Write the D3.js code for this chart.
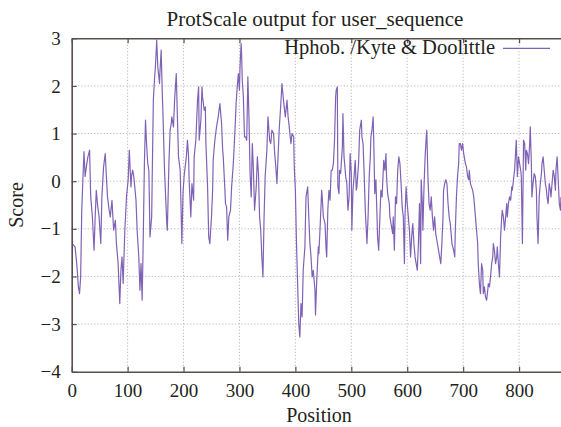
<!DOCTYPE html>
<html>
<head>
<meta charset="utf-8">
<script src="https://cdn.jsdelivr.net/npm/d3@7"></script>
<style>
  html, body { margin: 0; padding: 0; background: #fff; }
  svg { display: block; }
  text { font-family: "Liberation Serif", "DejaVu Serif", serif; fill: #231f20; }
</style>
</head>
<body>
<svg id="chart" width="561" height="427"></svg>
<script>
// Kyte & Doolittle hydropathy profile (sliding-window average)
const positions = [
  0,6,9,12,14,16,18,20,22,24,27,29,32,34,37,40,42,44,46,49,52,54,57,60,62,64,67,69,72,75,78,80,83,86,88,90,92,95,98,101,103,
  106,107,109,111,115,117,120,122,124,126,128,130,132,134,136,138,140,143,144,146,148,150,152,154,157,158,160,162,163,166,168,170,171,
  174,176,178,179,182,184,187,189,191,194,
  197,199,201,205,207,209,210,213,215,218,219,222,225,227,228,231,233,234,237,239,240,243,245,247,250,252,253,256,259,262,265,268,270,
  271,274,275,277,279,281,284,286,289,292,294,296,298,300,301,303,304,305,307,309,311,313,315,317,319,321,323,325,327,330,332,334,336,
  338,340,342,344,346,349,351,354,356,358,361,363,365,367,369,371,374,376,377,380,382,385,387,389,392,394,397,398,400,402,404,406,408,
  410,412,414,417,419,422,424,426,
  428,430,432,435,436,438,441,442,444,447,448,450,453,455,456,458,460,462,464,466,468,470,472,473,475,476,478,479,481,484,485,487,490,
  492,494,496,498,500,501,503,505,507,509,510,513,515,518,519,521,523,525,528,530,532,534,535,537,539,540,542,544,546,547,549,552,553,
  555,558,560,562,563,565,568,569,571,574,575,577,579,581,583,585,587,589,591,593,595,596,598,600,602,604,606,608,610,612,614,616,618,
  620,622,
  624,625,627,628,630,632,634,635,637,639,641,643,645,647,649,651,653,655,658,660,662,664,665,667,669,671,673,675,677,679,680,683,685,
  686,688,690,692,693,695,697,699,701,702,704,706,708,710,711,713,715,717,719,720,722,724,726,727,729,731,733,735,736,738,740,742,744,
  745,747,749,751,753,754,756,758,760,761,763,765,767,769,770,772,774,776,778,779,781,783,785,787,788,790,792,794,795,797,799,801,803,
  804,806,808,810,812,813,815,817,819,820,822,823,825,827,829,831,832,834,836,838,840,841,843,845,847,849,850,852,854,856,857,859,861,
  863,865,866,868,870,872,874,875
];
const scores = [
  -1.30,-1.38,-1.73,-2.22,-2.36,-2.01,-0.61,0.03,0.62,0.10,0.37,0.51,0.65,-0.33,-0.75,-1.45,-0.75,-0.19,-0.47,-0.75,-1.31,-0.33,0.30,
  0.58,0.10,-0.33,-0.61,-0.75,-0.40,-1.03,-0.82,-1.31,-1.73,-2.57,-1.87,-1.59,-2.15,-1.03,-0.33,0.03,0.65,
  -0.12,0.10,0.23,0.10,-0.40,-1.03,-1.59,-2.29,-1.73,-2.50,-1.17,0.37,1.28,0.76,0.37,0.23,-1.17,-0.75,0.10,1.70,2.12,2.47,2.96,2.40,
  2.05,2.33,2.75,1.84,1.49,0.23,-0.33,-0.89,-1.03,
  0.44,1.07,1.21,1.35,1.14,1.70,2.26,1.35,0.51,0.23,
  -1.31,-0.26,0.10,0.51,0.86,0.51,0.03,-0.75,-0.05,-0.40,0.51,0.86,1.70,1.98,0.86,1.28,1.98,1.77,1.49,1.56,0.79,-0.12,-1.17,-1.31,-0.75,
  -0.19,0.44,0.86,1.14,1.35,1.63,1.21,0.65,
  0.51,-0.19,-0.47,-0.54,-1.24,-0.75,-0.61,-0.12,0.37,1.07,1.63,1.98,2.26,1.91,2.40,2.89,2.61,2.12,1.77,0.93,0.93,0.86,2.19,1.35,0.16,
  -0.33,0.79,0.23,-0.61,-0.12,0.51,0.16,-0.75,
  -1.03,-1.59,-2.01,-0.75,0.10,0.65,1.35,0.86,0.79,1.07,1.00,0.58,0.30,-0.05,0.51,1.07,1.63,2.05,1.91,1.56,1.35,1.70,1.35,1.14,0.79,
  1.00,0.93,0.30,-0.19,-1.31,-2.15,-2.99,-3.27,
  -2.57,-2.85,-1.87,-1.38,-0.33,-0.12,-0.75,-1.31,
  -1.59,-2.01,-1.87,-2.29,-2.81,-2.15,-1.38,-1.52,-1.03,-0.19,-0.33,-0.75,-0.89,-1.45,-1.59,-0.61,-0.19,-0.40,0.23,0.23,0.37,0.86,1.77,
  1.91,1.98,-0.12,-0.26,0.23,0.16,0.72,1.42,0.51,0.10,
  -0.05,-0.61,-0.33,0.58,0.16,-1.03,-0.19,0.10,0.44,-0.19,-0.12,0.37,1.07,1.28,0.93,0.79,0.16,-0.61,-1.31,-0.75,0.10,0.51,0.93,1.07,
  1.35,0.93,-0.26,0.03,-0.75,-1.17,-1.45,-0.47,-0.19,
  -0.33,0.44,0.23,0.58,0.10,-0.26,-0.47,-0.75,-0.89,-1.10,-0.75,-1.45,-0.33,-0.47,0.23,0.51,0.37,-0.05,-0.54,-0.75,-1.73,-0.75,-0.12,
  -0.47,-0.75,-1.03,-1.59,-1.17,-0.89,-1.31,-1.59,-1.73,-1.87,
  -1.31,-0.47,
  -1.73,0.03,-0.47,-1.03,-0.12,0.51,0.93,1.07,0.10,-0.47,-0.61,-0.33,-0.75,-1.03,-0.75,-1.10,-1.24,-1.38,-1.59,-1.73,-1.31,-0.75,-0.19,
  -0.05,0.03,-0.05,-0.47,-0.75,-0.89,-1.17,-1.31,-1.45,-1.59,
  -1.03,-0.33,0.10,0.37,0.79,0.79,0.65,0.79,0.58,0.51,0.37,0.30,0.10,0.03,0.23,-0.05,-0.12,-0.19,-0.33,-0.47,-0.75,-1.03,-1.31,-1.73,
  -2.15,-2.36,-1.73,-1.87,-2.36,-2.22,-2.43,-2.50,-2.29,
  -2.15,-2.22,-2.01,-1.73,-1.59,-1.31,-1.45,-1.73,-1.59,-1.38,-1.73,-2.01,-1.17,-0.75,-0.61,-0.75,-1.03,-0.75,-0.47,-0.75,-0.47,-0.33,
  -0.40,-0.12,-0.19,0.03,0.23,0.65,0.86,0.10,0.51,0.37,0.23,
  0.10,-1.31,0.86,0.79,0.23,0.65,0.58,0.37,0.79,1.14,0.37,-0.33,-0.05,0.16,0.10,-0.19,-0.75,-1.31,-0.33,-0.05,0.16,0.37,0.51,0.23,
  -0.05,-0.19,-0.33,-0.47,-0.05,-0.19,-0.33,-0.05,0.23,
  0.10,-0.19,0.23,0.51,0.03,-0.47,-0.61,-0.33
];
const xTicks = [0, 100, 200, 300, 400, 500, 600, 700, 800];
const yTicks = [-4, -3, -2, -1, 0, 1, 2, 3];
const chartTitle = "ProtScale output for user_sequence";
const seriesName = "Hphob. /Kyte & Doolittle";
const xTitle = "Position";
const yTitle = "Score";

const data = positions.map((p, i) => ({ pos: p, score: scores[i] }));

const svg = d3.select("#chart");
const plot = { left: 71.7, right: 561, top: 38.3, bottom: 371.7 };

const x = d3.scaleLinear().domain([0, 875]).range([plot.left, plot.right]);
const y = d3.scaleLinear().domain([-4, 3]).range([plot.bottom, plot.top]);

// dotted grid
const grid = svg.append("g").attr("stroke", "#bdb7b7").attr("stroke-width", 1)
  .attr("stroke-dasharray", "1.2,2");
grid.selectAll("line.v").data(xTicks.filter(d => d > 0)).join("line")
  .attr("x1", d => x(d)).attr("x2", d => x(d)).attr("y1", plot.top).attr("y2", plot.bottom);
grid.selectAll("line.h").data(yTicks.filter(d => d > -4 && d < 3)).join("line")
  .attr("x1", plot.left).attr("x2", plot.right).attr("y1", d => y(d)).attr("y2", d => y(d));

// series line
svg.append("clipPath").attr("id", "plotClip").append("rect")
  .attr("x", plot.left).attr("y", plot.top)
  .attr("width", plot.right - plot.left).attr("height", plot.bottom - plot.top);
svg.append("path")
  .datum(data)
  .attr("clip-path", "url(#plotClip)")
  .attr("fill", "none")
  .attr("stroke", "#7f62b5")
  .attr("stroke-width", 1.2)
  .attr("stroke-linejoin", "round")
  .attr("d", d3.line().defined(d => Number.isFinite(d.score)).x(d => x(d.pos)).y(d => y(d.score)));

// axes (frame with inward ticks)
const frameColor = "#574f4c";
const fmt = d => d < 0 ? "\u2212" + Math.abs(d) : String(d);
const axB = svg.append("g").attr("transform", `translate(0,${plot.bottom})`)
  .call(d3.axisBottom(x).tickValues(xTicks).tickSizeInner(-5).tickSizeOuter(0).tickPadding(12).tickFormat(fmt));
const axT = svg.append("g").attr("transform", `translate(0,${plot.top})`)
  .call(d3.axisTop(x).tickValues(xTicks).tickSizeInner(-5).tickSizeOuter(0).tickFormat(""));
const axL = svg.append("g").attr("transform", `translate(${plot.left},0)`)
  .call(d3.axisLeft(y).tickValues(yTicks).tickSizeInner(-5).tickSizeOuter(0).tickPadding(11).tickFormat(fmt));
[axB, axT, axL].forEach(g => {
  g.select(".domain").attr("stroke", frameColor).attr("stroke-width", 1.6);
  g.selectAll(".tick line").attr("stroke", frameColor).attr("stroke-width", 1.2);
  g.selectAll("text").attr("font-family", "Liberation Serif, serif")
    .attr("font-size", 19).attr("fill", "#231f20");
});

// titles
svg.append("text").attr("x", 315).attr("y", 26).attr("text-anchor", "middle")
  .attr("font-size", 21).text(chartTitle);
svg.append("text").attr("x", 319).attr("y", 422).attr("text-anchor", "middle")
  .attr("font-size", 20).text(xTitle);
svg.append("text").attr("transform", "translate(23,205) rotate(-90)")
  .attr("text-anchor", "middle").attr("font-size", 20).text(yTitle);

// legend
svg.append("text").attr("x", 495).attr("y", 54).attr("text-anchor", "end")
  .attr("font-size", 20.5).text(seriesName);
svg.append("line").attr("x1", 503).attr("x2", 550).attr("y1", 48.3).attr("y2", 48.3)
  .attr("stroke", "#7f62b5").attr("stroke-width", 1.3);
</script>
</body>
</html>
